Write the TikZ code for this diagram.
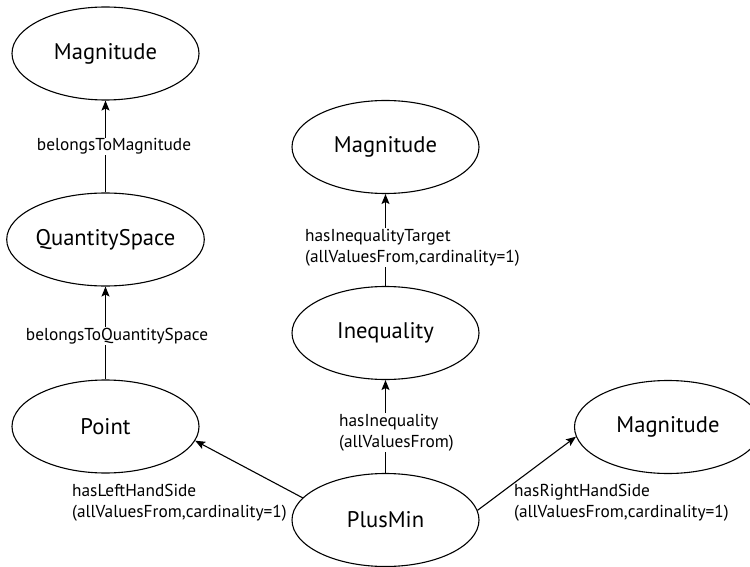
\documentclass[tikz,border=0pt]{standalone}
\usepackage{fontspec}
\setmainfont{PT Sans}
\usetikzlibrary{shapes.geometric,arrows.meta}
\begin{document}
\begin{tikzpicture}[x=1pt,y=-1pt,
  cls/.style={draw, ellipse, line width=1.1pt, minimum width=187pt,
    minimum height=93pt, inner sep=0pt, font=\fontsize{22.6}{26}\selectfont},
  rel/.style={-{Stealth[length=10pt,width=8pt,inset=2pt]}, line width=1.1pt},
  lbl/.style={inner sep=1pt, align=left, font=\fontsize{17.3}{21}\selectfont},
  cut/.style={lbl, fill=white}]
\useasboundingbox (0,0) rectangle (750,567);
\clip (0,0) rectangle (750,567);

% classes
\node[cls] (magA)  at (105.5,53.5)  {Magnitude};
\node[cls] (qs)    at (105.5,239.5) {QuantitySpace};
\node[cls] (point) at (105.5,426.5) {Point};
\node[cls] (magB)  at (385.5,147)   {Magnitude};
\node[cls] (ineq)  at (385.5,333)   {Inequality};
\node[cls] (plus)  at (385.5,520)   {PlusMin};
\node[cls] (magC)  at (668,427)     {Magnitude};

% properties
\draw[rel] (qs.north) -- (magA.south);
\draw[rel] (point.north) -- (qs.south);
\draw[rel] (ineq.north) -- (magB.south);
\draw[rel] (plus.north) -- (ineq.south);
\draw[rel] (plus.165.6) -- (point.351.8);
\draw[rel] (plus.6.2) -- (magC.186.6);

% property labels
\node[cut] (lblA) at (114,146.5) {belongsToMagnitude};
\node[cut] (lblB) at (117,336) {belongsToQuantitySpace};
\node[cut, anchor=west] (lblC) at (304,247.5) {hasInequalityTarget\\(allValuesFrom,cardinality=1)};
\node[cut, anchor=west] (lblD) at (338,432.5) {hasInequality\\(allValuesFrom)};
\node[lbl, anchor=west] (lblE) at (71,502.5) {hasLeftHandSide\\(allValuesFrom,cardinality=1)};
\node[lbl, anchor=west] (lblF) at (513,502.5) {hasRightHandSide\\(allValuesFrom,cardinality=1)};
\end{tikzpicture}
\end{document}
